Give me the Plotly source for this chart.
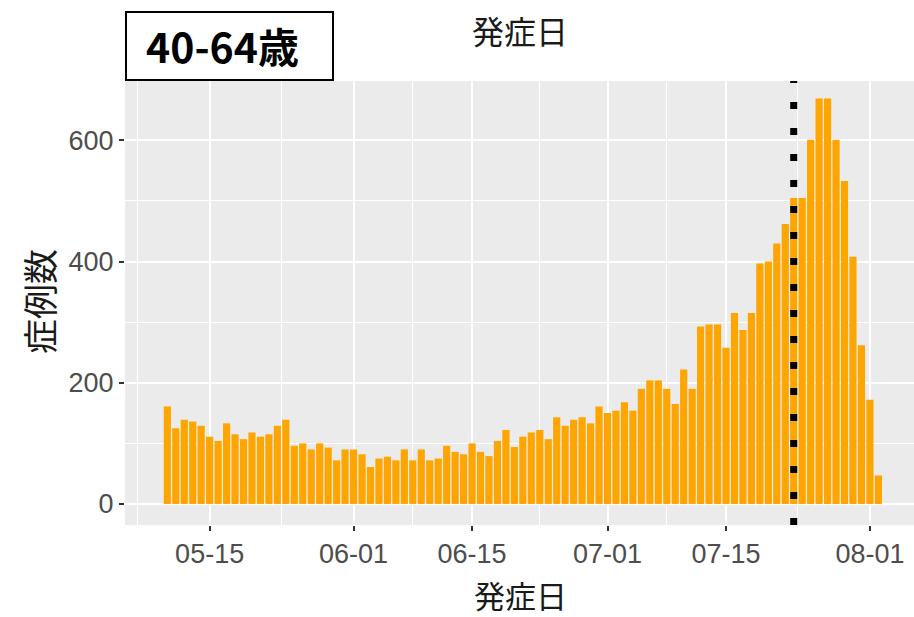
import pandas as pd
import plotly.graph_objects as go

# Daily case counts by onset date, 40-64 age group
start_date = "2020-05-10"
cases = [
    161, 125, 139, 136, 129, 111, 104, 133, 115, 107,
    118, 111, 115, 129, 139, 96, 100, 90, 100, 93,
    72, 90, 90, 82, 61, 75, 78, 72, 90, 72,
    90, 72, 75, 96, 86, 82, 100, 86, 79, 104,
    122, 94, 111, 118, 122, 107, 143, 129, 139, 143,
    133, 161, 150, 154, 168, 154, 190, 204, 204, 190,
    165, 222, 190, 293, 296, 296, 258, 315, 287, 315,
    397, 400, 430, 462, 505, 505, 601, 669, 669, 601,
    533, 408, 262, 172, 47,
]
dates = pd.date_range(start_date, periods=len(cases), freq="D")

x_tick_vals = ["2020-05-15", "2020-06-01", "2020-06-15", "2020-07-01", "2020-07-15", "2020-08-01"]
x_tick_text = ["05-15", "06-01", "06-15", "07-01", "07-15", "08-01"]
x_minor_vals = ["2020-05-06 12:00", "2020-05-23 12:00", "2020-06-08", "2020-06-23",
                "2020-07-08", "2020-07-23 12:00"]
y_tick_vals = [0, 200, 400, 600]
y_minor_vals = [100, 300, 500]
marker_date = "2020-07-23"

group_label = "40-64歳"
axis_title = "発症日"
y_title = "症例数"

W, H = 914, 617
ML, MR, MT, MB = 125, 0, 81, 92


def px_x(p):
    return (p - ML) / (W - ML - MR)


def px_y(p):
    return (H - MB - p) / (H - MT - MB)


tick_font = dict(family="Liberation Sans Narrow, Arial Narrow, Liberation Sans, sans-serif",
                 size=27, color="#4D4D4D")
cjk = "Noto Sans CJK JP, sans-serif"

fig = go.Figure()
fig.add_trace(go.Bar(x=dates, y=cases, marker=dict(color="#FFA500", line=dict(width=0)),
                     hoverinfo="x+y"))

fig.update_layout(
    width=W, height=H,
    margin=dict(l=ML, r=MR, t=MT, b=MB, pad=0),
    paper_bgcolor="white",
    plot_bgcolor="#EBEBEB",
    bargap=0.15,
    showlegend=False,
    xaxis=dict(
        type="date",
        range=["2020-05-05 00:00", "2020-08-06 05:00"],
        tickmode="array", tickvals=x_tick_vals, ticktext=x_tick_text,
        ticks="outside", ticklen=5, tickwidth=1.5, tickcolor="#333333",
        tickfont=tick_font,
        showgrid=True, gridcolor="white", gridwidth=2.2,
        minor=dict(tickmode="array", tickvals=x_minor_vals, showgrid=True,
                   gridcolor="white", gridwidth=1.4, ticks=""),
        zeroline=False, showline=False,
    ),
    yaxis=dict(
        range=[-34.7, 698],
        tickmode="array", tickvals=y_tick_vals,
        ticks="outside", ticklen=5, tickwidth=1.5, tickcolor="#333333",
        tickfont=tick_font,
        showgrid=True, gridcolor="white", gridwidth=2.2,
        minor=dict(tickmode="array", tickvals=y_minor_vals, showgrid=True,
                   gridcolor="white", gridwidth=1.4, ticks=""),
        zeroline=False, showline=False,
    ),
)

# Vertical dotted reference line
fig.add_shape(type="line", xref="x", yref="paper", x0=marker_date, x1=marker_date,
              y0=0, y1=1, line=dict(color="black", width=7, dash="7px,19px"))

# Age-group label box
fig.add_shape(type="rect", xref="paper", yref="paper",
              x0=px_x(126), x1=px_x(333), y0=px_y(80), y1=px_y(12),
              line=dict(color="black", width=2), fillcolor="white", layer="above")
fig.add_annotation(xref="paper", yref="paper", x=px_x(222), y=px_y(45),
                   text=f"<b>{group_label}</b>", showarrow=False,
                   font=dict(family=cjk, size=41, color="black"),
                   xanchor="center", yanchor="middle")

# Titles
fig.add_annotation(xref="paper", yref="paper", x=px_x(520), y=px_y(30),
                   text=axis_title, showarrow=False,
                   font=dict(family=cjk, size=32, color="#1A1A1A"),
                   xanchor="center", yanchor="middle")
fig.add_annotation(xref="paper", yref="paper", x=px_x(520), y=px_y(594),
                   text=axis_title, showarrow=False,
                   font=dict(family=cjk, size=31, color="#1A1A1A"),
                   xanchor="center", yanchor="middle")
fig.add_annotation(xref="paper", yref="paper", x=px_x(38), y=px_y(302),
                   text=y_title, showarrow=False, textangle=-90,
                   font=dict(family=cjk, size=35, color="#1A1A1A"),
                   xanchor="center", yanchor="middle")

fig.write_html("out.html")
